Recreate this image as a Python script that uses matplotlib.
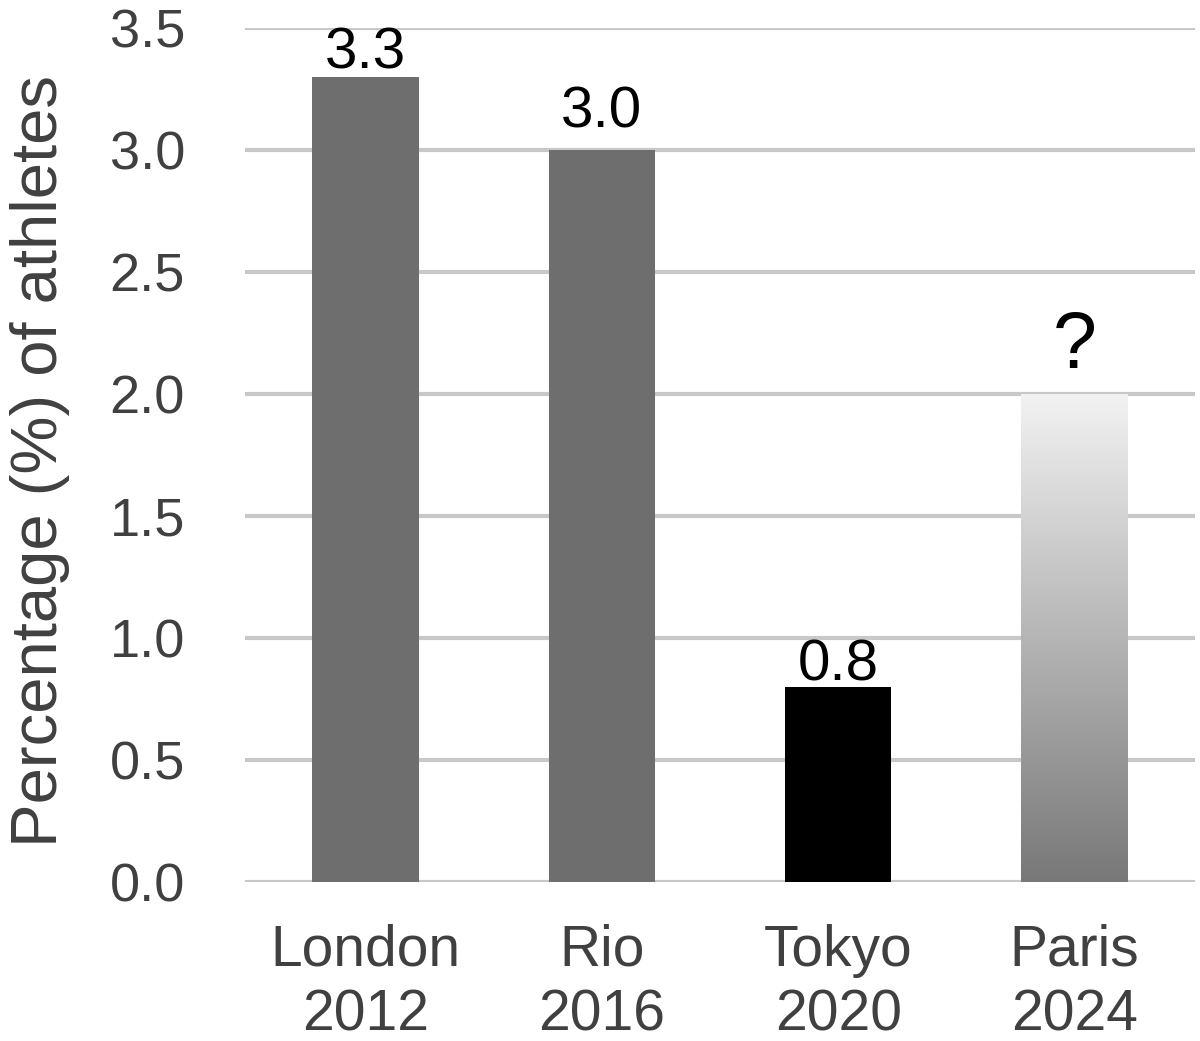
import numpy as np
import matplotlib
matplotlib.use("Agg")
import matplotlib.pyplot as plt
from matplotlib.colors import LinearSegmentedColormap

categories = ["London\n2012", "Rio\n2016", "Tokyo\n2020", "Paris\n2024"]
values = [3.3, 3.0, 0.8, 2.0]
labels = ["3.3", "3.0", "0.8", "?"]
yticks = [0.0, 0.5, 1.0, 1.5, 2.0, 2.5, 3.0, 3.5]

# styling: gap (pixels) between bar top and label baseline, and label sizes
label_gap_px = [8, 23, 6, 26]
label_size = [42, 42, 42, 57]

plt.rcParams['font.family'] = ['Liberation Sans', 'DejaVu Sans']

fig = plt.figure(figsize=(12, 10.41), dpi=100)
ax = fig.add_axes([0.204, 0.1527, 0.792, 0.8203])

x = np.arange(len(categories))
colors = ["#6e6e6e", "#6e6e6e", "#000000", "none"]
width = 0.45
bars = ax.bar(x, values, width=width, color=colors, zorder=3)

# gradient for Paris bar
pb = bars[3]
grad = np.linspace(0, 1, 256).reshape(-1, 1)
cmap = LinearSegmentedColormap.from_list("g", ["#787878", "#f2f2f2"])
bx = pb.get_x()
im = ax.imshow(grad, extent=[bx, bx + pb.get_width(), 0, pb.get_height()],
               origin="lower", aspect="auto", cmap=cmap, zorder=3)
im.set_clip_path(pb)

ymax = 3.5
for xi, v, lab, gap, fs in zip(x, values, labels, label_gap_px, label_size):
    ax.annotate(lab, (xi, v), xytext=(0, gap), textcoords="offset pixels",
                ha="center", va="baseline", fontsize=fs, color="black",
                zorder=4, annotation_clip=False)

ax.set_xlim(-0.51, 3.51)
ax.set_ylim(0, ymax)
ax.set_yticks(yticks)
ax.set_yticklabels([f"{t:.1f}" for t in yticks])
ax.set_xticks(x)
ax.set_xticklabels(categories, linespacing=1.25)
ax.tick_params(axis="both", length=0, labelcolor="#404040")
ax.tick_params(axis="y", pad=43, labelsize=39)
ax.tick_params(axis="x", pad=30, labelsize=41)
ax.yaxis.grid(True, color="#c8c8c8", linewidth=3, zorder=0)
for s in ax.spines.values():
    s.set_visible(False)
fig.text(0.008, 0.557, "Percentage (%) of athletes", fontsize=47,
         color="#404040", rotation=90, ha="left", va="center")

fig.savefig("out.png", dpi=100)
